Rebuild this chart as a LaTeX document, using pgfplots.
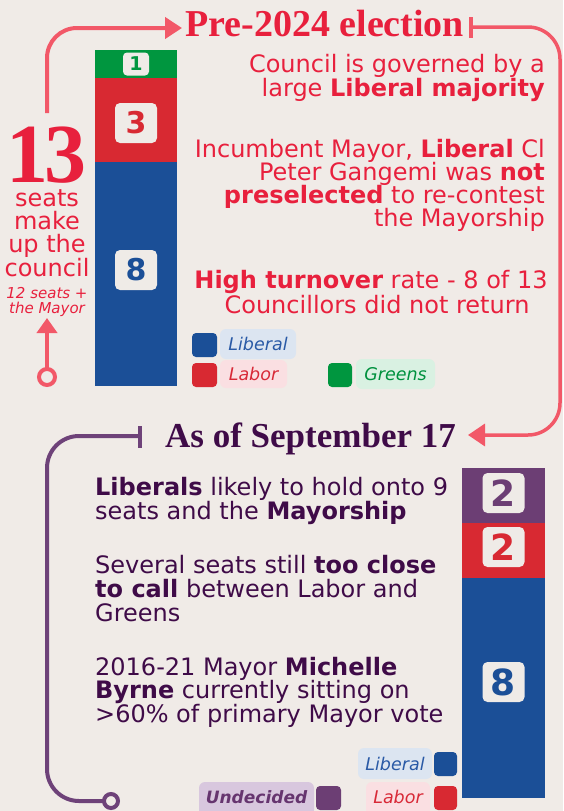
\documentclass[border=0pt]{standalone}
\usepackage{fontspec}
\setmainfont{DejaVu Sans}
\newfontfamily\titlefont{Liberation Serif}
\usepackage{pgfplots}
\pgfplotsset{compat=1.18}
\usetikzlibrary{arrows.meta}

\definecolor{bg}{HTML}{F0EBE7}
\definecolor{redtxt}{HTML}{E8203D}
\definecolor{arrowred}{HTML}{F25868}
\definecolor{greenbar}{HTML}{00963F}
\definecolor{redbar}{HTML}{D82932}
\definecolor{bluebar}{HTML}{1B4F97}
\definecolor{purplebar}{HTML}{6C3E74}
\definecolor{purpletxt}{HTML}{3F0B48}
\definecolor{purpleline}{HTML}{6E4279}
\definecolor{numbg}{HTML}{EFEBE7}
\definecolor{libbg}{HTML}{DCE5F1}
\definecolor{labbg}{HTML}{FADFE2}
\definecolor{grnbg}{HTML}{D9F1E2}
\definecolor{undbg}{HTML}{D8C7DE}
\definecolor{libtxt}{HTML}{2A5AA6}
\definecolor{labtxt}{HTML}{D82937}
\definecolor{grntxt}{HTML}{00913E}
\definecolor{undtxt}{HTML}{66356F}

\newcommand{\fs}[1]{\fontsize{#1}{#1}\selectfont}

% stacked labels land in the middle of their segment; yshift only nudges them
\pgfplotsset{
  seatbar/.style={
    ybar stacked, hide axis, scale only axis, anchor=south west,
    xmin=-0.5, xmax=0.5, ymin=0, ymax=12, enlargelimits=false,
    bar width=1, clip=false,
    /pgf/number format/assume math mode=true,
  },
  numbox/.style={
    nodes near coords,
    every node near coord/.append style={anchor=center, fill=numbg,
      rounded corners=5pt, inner sep=0pt, minimum width=42pt,
      minimum height=40pt, font=\bfseries\fs{30}, text=#1},
  },
}

\begin{document}
\begin{tikzpicture}
\fill[bg] (0,0) rectangle (563pt,-811pt);
\useasboundingbox (0,0) rectangle (563pt,-811pt);

% pre-2024 council
\begin{axis}[seatbar, at={(95pt,-386pt)}, width=82pt, height=336pt]
\addplot[fill=bluebar, draw=none, numbox=bluebar,
  every node near coord/.append style={yshift=4pt}] coordinates {(0,8)};
\addplot[fill=redbar, draw=none, numbox=redbar,
  every node near coord/.append style={yshift=-3pt}] coordinates {(0,3)};
\addplot[fill=greenbar, draw=none, numbox=greenbar,
  every node near coord/.append style={minimum width=26pt,
    minimum height=23pt, rounded corners=4pt, font=\bfseries\fs{19}}] coordinates {(0,1)};
\end{axis}

% as of September 17
\begin{axis}[seatbar, at={(462pt,-798pt)}, width=83pt, height=330pt]
\addplot[fill=bluebar, draw=none, numbox=bluebar,
  every node near coord/.append style={yshift=6pt, font=\bfseries\fs{36}}] coordinates {(0,8)};
\addplot[fill=redbar, draw=none, numbox=redbar,
  every node near coord/.append style={yshift=3.5pt, font=\bfseries\fs{36}}] coordinates {(0,2)};
\addplot[fill=purplebar, draw=none, numbox=purplebar,
  every node near coord/.append style={yshift=2.5pt, font=\bfseries\fs{36}}] coordinates {(0,2)};
\end{axis}

\begin{scope}[x=1pt, y=-1pt]
% connectors
\draw[arrowred, line width=4pt, rounded corners=30pt, -{Triangle[length=17pt, width=21pt]}]
  (47,113) -- (47,28) -- (182,28);
\draw[arrowred, line width=4pt] (471,17) -- (471,38);
\draw[arrowred, line width=3.5pt, rounded corners=32pt, -{Triangle[length=17pt, width=22pt]}]
  (471,27) -- (560,27) -- (560,435) -- (468,435);
\draw[arrowred, line width=4pt, -{Triangle[length=15pt, width=20pt]}] (47,369) -- (47,318);
\draw[arrowred, line width=4pt, fill=bg] (47,377) circle (8pt);

\draw[purpleline, line width=4pt] (140,426) -- (140,448);
\draw[purpleline, line width=4pt, rounded corners=32pt] (140,436) -- (47,436) -- (47,801) -- (103,801);
\draw[purpleline, line width=4pt, fill=bg] (111,801) circle (7pt);

% titles
\node[anchor=base west, text=redtxt, font=\titlefont\bfseries\fs{38}, inner sep=0pt] at (185,36) {Pre-2024 election};
\node[anchor=base west, text=purpletxt, font=\titlefont\bfseries\fs{35}, inner sep=0pt] at (165,447) {As of September 17};

% left side
\node[anchor=base, text=redtxt, font=\titlefont\bfseries\fs{84}, inner sep=0pt, text depth=0pt] at (46,182) {1\kern-4pt3};
\begin{scope}[every node/.style={anchor=base, text=redtxt, font=\fs{24}, inner sep=0pt}]
\node at (47,206) {seats};
\node at (47,229) {make};
\node at (47,252) {up the};
\node at (47,276) {council};
\end{scope}
\node[anchor=base, text=redtxt, font=\itshape\fs{15}, inner sep=0pt] at (47,298) {12 seats +};
\node[anchor=base, text=redtxt, font=\itshape\fs{15}, inner sep=0pt] at (47,313) {the Mayor};

% notes, pre-2024
\begin{scope}[every node/.style={anchor=base east, text=redtxt, font=\fs{24}, inner sep=0pt}]
\node at (545,72) {Council is governed by a};
\node at (545,96) {large \textbf{Liberal majority}};
\node at (545,157) {Incumbent Mayor, \textbf{Liberal} Cl};
\node at (545,180) {Peter Gangemi was \textbf{not}};
\node at (545,203) {\textbf{preselected} to re-contest};
\node at (545,226) {the Mayorship};
\end{scope}
\node[anchor=base, text=redtxt, font=\fs{24}, inner sep=0pt] at (371,288) {\textbf{High turnover} rate - 8 of 13};
\node[anchor=base, text=redtxt, font=\fs{24}, inner sep=0pt] at (377,313) {Councillors did not return};

% legend, pre-2024
\fill[bluebar, rounded corners=4pt] (192,333) rectangle (217,357);
\fill[libbg, rounded corners=6pt] (220,329) rectangle (296,359);
\node[text=libtxt, font=\itshape\fs{17.5}] at (258,344) {Liberal};
\fill[redbar, rounded corners=4pt] (192,363) rectangle (217,387);
\fill[labbg, rounded corners=6pt] (220,360) rectangle (287,388);
\node[text=labtxt, font=\itshape\fs{17.5}] at (253.5,374) {Labor};
\fill[greenbar, rounded corners=4pt] (328,363) rectangle (352,387);
\fill[grnbg, rounded corners=6pt] (356,359) rectangle (435,389);
\node[text=grntxt, font=\itshape\fs{17.5}] at (395.5,374) {Greens};

% notes, September 17
\begin{scope}[every node/.style={anchor=base west, text=purpletxt, font=\fs{24}, inner sep=0pt}]
\node at (95,495) {\textbf{Liberals} likely to hold onto 9};
\node at (95,519) {seats and the \textbf{Mayorship}};
\node at (95,573) {Several seats still \textbf{too close}};
\node at (95,597) {\textbf{to call} between Labor and};
\node at (95,621) {Greens};
\node at (95,675) {2016-21 Mayor \textbf{Michelle}};
\node at (95,698) {\textbf{Byrne} currently sitting on};
\node at (95,722) {>60\% of primary Mayor vote};
\end{scope}

% legend, September 17
\fill[libbg, rounded corners=6pt] (358,748) rectangle (432,779);
\node[text=libtxt, font=\itshape\fs{17.5}] at (395,764) {Liberal};
\fill[bluebar, rounded corners=4pt] (434,752) rectangle (457,776);
\fill[labbg, rounded corners=6pt] (366,782) rectangle (430,816);
\node[text=labtxt, font=\itshape\fs{17.5}] at (398,797) {Labor};
\fill[redbar, rounded corners=4pt] (434,786) rectangle (457,810);
\fill[undbg, rounded corners=6pt] (199,782) rectangle (314,816);
\node[text=undtxt, font=\bfseries\itshape\fs{17}] at (256.5,797) {Undecided};
\fill[purplebar, rounded corners=4pt] (316,786) rectangle (341,810);
\end{scope}
\end{tikzpicture}
\end{document}
